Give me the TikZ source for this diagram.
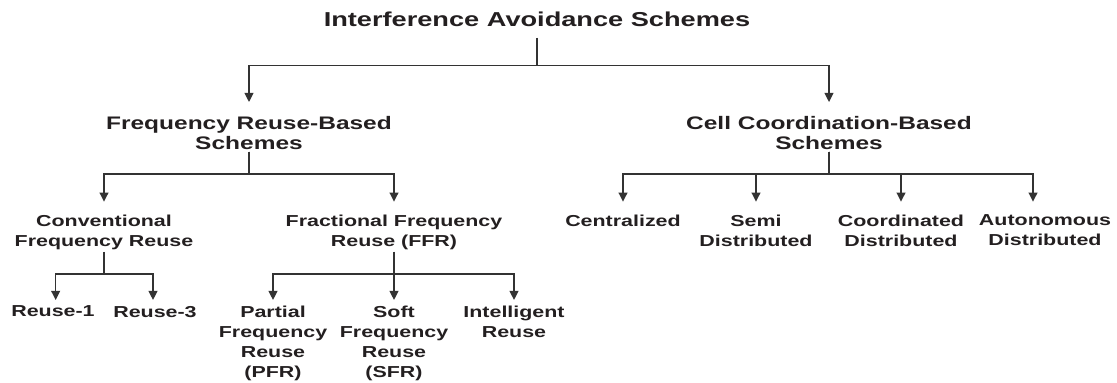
\documentclass[tikz,border=0pt]{standalone}
\usepackage{fontspec}
\usepackage{tikz}
\usetikzlibrary{positioning}
\usetikzlibrary{arrows.meta}
\newfontfamily\diagfont{Liberation Sans}[FakeStretch=1.35]
\definecolor{textdark}{HTML}{231F20}
\definecolor{linedark}{HTML}{333333}
\tikzset{headnode/.style={inner sep=0pt, outer sep=0pt, anchor=north, text=textdark, font=\diagfont\bfseries\fontsize{15.1}{17}\selectfont}}
\tikzset{branchnode/.style={headnode, align=center, font=\diagfont\bfseries\fontsize{13.6}{14.5}\selectfont}}
\tikzset{subnode/.style={headnode, align=center, font=\diagfont\bfseries\fontsize{11.9}{14.8}\selectfont}}
\tikzset{leafnode/.style={headnode, align=center, font=\diagfont\bfseries\fontsize{11.9}{15}\selectfont}}
\tikzset{link/.style={draw=linedark, line width=1.05pt, shorten <=1.75pt, -{Triangle[length=6.8pt, width=6.6pt]}}}

\begin{document}
\begin{tikzpicture}[x=0.75pt, y=0.75pt]
    \useasboundingbox (0,0) rectangle (1117,-382);

    % top level
    \node[headnode]    (ias)    at (537,-12.3)   {Interference Avoidance Schemes};

    % second level
    \node[branchnode]  (frb)    at (249,-116.7)  {Frequency Reuse-Based\\Schemes};
    \node[branchnode]  (ccb)    at (829,-116.7)  {Cell Coordination-Based\\Schemes};

    % third level
    \node[subnode]     (cfr)    at (104,-215)    {Conventional\\Frequency Reuse};
    \node[subnode]     (ffr)    at (394,-215)    {Fractional Frequency\\Reuse (FFR)};
    \node[subnode]     (cen)    at (623,-215)    {Centralized};
    \node[subnode]     (semi)   at (756,-215)    {Semi\\Distributed};
    \node[subnode]     (coord)  at (901,-215)    {Coordinated\\Distributed};
    \node[subnode]     (auto)   at (1045,-215)   {Autonomous\\Distributed};

    % leaves
    \node[leafnode]    (reuse1) at (53,-306)     {Reuse-1};
    \node[leafnode]    (reuse3) at (155,-306)    {Reuse-3};
    \node[leafnode]    (pfr)    at (273,-306)    {Partial\\Frequency\\Reuse\\(PFR)};
    \node[leafnode]    (sfr)    at (394,-306)    {Soft\\Frequency\\Reuse\\(SFR)};
    \node[leafnode]    (ir)     at (514,-306)    {Intelligent\\Reuse};

    \foreach \child in {frb, ccb}
        \draw[link, shorten <=8pt, shorten >=11pt] (ias.south) -- (ias.south |- 0,-65.7) -| (\child.north);

    \foreach \child in {cfr, ffr}
        \draw[link, shorten >=10pt] (frb.south) -- (frb.south |- 0,-174) -| (\child.north);
    \foreach \child in {cen, semi, coord}
        \draw[link, shorten >=10pt] (ccb.south) -- (ccb.south |- 0,-174) -| (\child.north);
    \draw[link, shorten >=10pt] (ccb.south) -- (ccb.south |- 0,-174) -| ([xshift=-9pt]auto.north);

    \draw[link, shorten >=4.5pt] (cfr.south) -- (cfr.south |- 0,-274) -| ([xshift=2pt]reuse1.north);
    \draw[link, shorten >=4.5pt] (cfr.south) -- (cfr.south |- 0,-274) -| ([xshift=-1.5pt]reuse3.north);
    \foreach \child in {pfr, sfr, ir}
        \draw[link, shorten >=4.5pt] (ffr.south) -- (ffr.south |- 0,-274) -| (\child.north);
\end{tikzpicture}
\end{document}
